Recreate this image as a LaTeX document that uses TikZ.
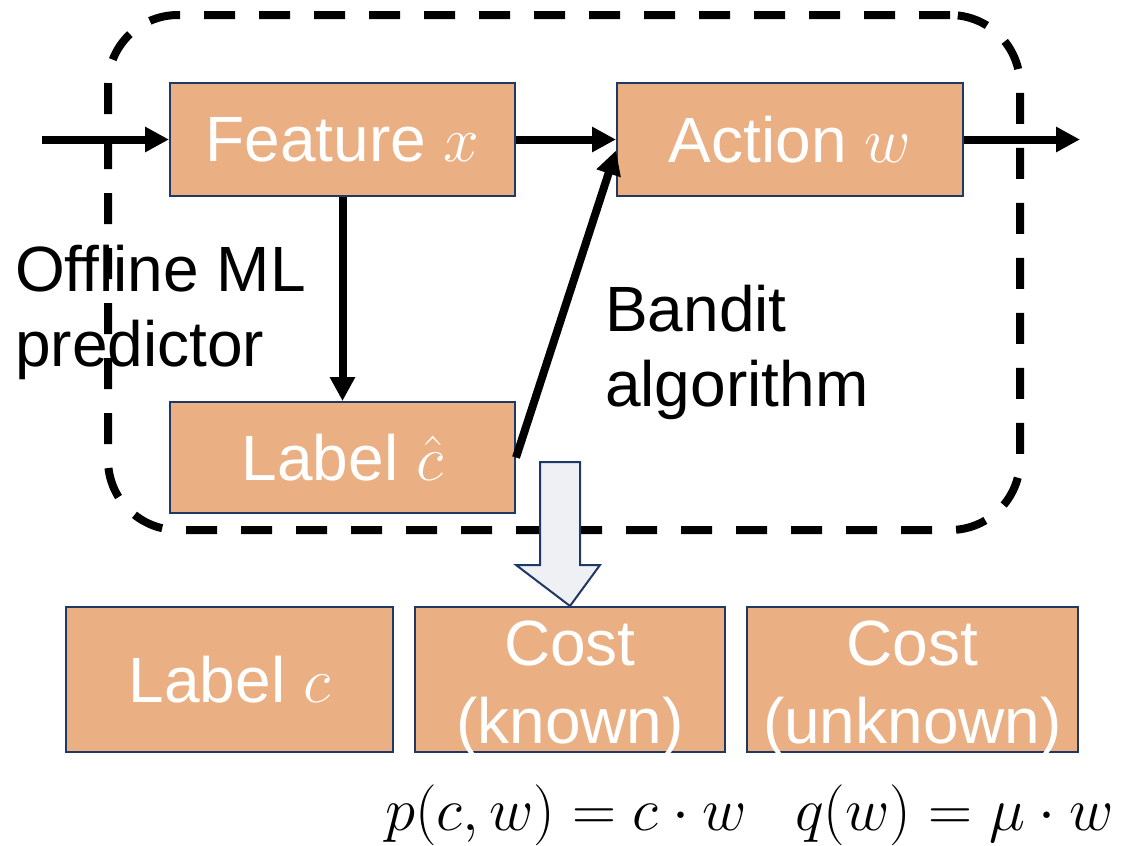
\RequirePackage{fix-cm}
\documentclass[tikz,border=0pt]{standalone}
\usepackage[no-math]{fontspec}
\setmainfont{Liberation Sans}
\usetikzlibrary{arrows.meta}
\definecolor{boxfill}{HTML}{EBAF84}
\definecolor{boxline}{HTML}{203864}
\definecolor{blockfill}{HTML}{EEF0F4}
\begin{document}
\begin{tikzpicture}[x=1pt,y=-1pt,
  blk/.style={draw=boxline, line width=2pt, fill=boxfill, text=white,
    font=\fontsize{64}{78}\selectfont, align=center, inner sep=0pt},
  boxtext/.style={text=white, font=\fontsize{64}{78}\selectfont, align=center, inner sep=0pt},
  flow/.style={line width=8pt, -{Triangle[length=24pt,width=24pt]}},
  lbl/.style={font=\fontsize{64}{75}\selectfont, align=left, inner sep=0pt, anchor=north west},
  eqn/.style={font=\fontsize{61}{61}\selectfont, inner sep=0pt, anchor=base west},
  loopbox/.style={draw, line width=8pt, dash pattern=on 31pt off 24pt,
    rounded corners=70pt, inner sep=0pt}]
\useasboundingbox (0,0) rectangle (1122,846);

% dashed outline around the online loop
\node[loopbox, minimum width=912pt, minimum height=515pt] (loop) at (564,272.5) {};

% main blocks
\node[blk, minimum width=345pt, minimum height=113pt] (feat) at (342.5,139.5) {Feature $x$};
\node[blk, minimum width=346pt, minimum height=113pt] (act) at (790,139.5) {Action $w$};
\node[blk, minimum width=345pt, minimum height=111pt] (lhat) at (342.5,457.5) {Label $\hat{c}$};

% bottom row; the two-line texts sit a little low and spill over the frame
\node[blk, minimum width=327pt, minimum height=145pt] (lab) at (229.5,679.5) {Label $c$};
\node[blk, minimum width=310pt, minimum height=145pt] (known) at (570,679.5) {};
\node[blk, minimum width=331pt, minimum height=145pt] (unknown) at (912.5,679.5) {};
\node[boxtext] (knowntxt) at ([yshift=-9pt]known.center) {Cost\\(known)};
\node[boxtext] (unknowntxt) at ([yshift=-9pt]unknown.center) {Cost\\(unknown)};

% side labels
\node[lbl] (ml) at (15,245) {Offline ML\\predictor};
\node[lbl] (bandit) at (605,285) {Bandit\\algorithm};

% formulas
\node[eqn] (peq) at (385,830) {$p(c,w)=c\cdot w$};
\node[eqn] (qeq) at (795,830) {$q(w)=\mu\cdot w$};

% connectors
\coordinate (in) at (42,139.5);
\coordinate (out) at (1080,139.5);
\draw[flow] (in) -- (feat.west);
\draw[flow] (feat.east) -- (act.west);
\draw[flow] (act.east) -- (out);
\draw[flow] (feat.south) -- (lhat.north);
\draw[flow] (lhat.east) -- ([yshift=-11pt]act.west);

% block arrow down to the known cost
\draw[draw=boxline, line width=2pt, fill=blockfill, line join=miter]
  (540,462) -- (580,462) -- (580,565) -- (600,565) -- (known.north)
  -- (516,565) -- (540,565) -- cycle;
\end{tikzpicture}
\end{document}
